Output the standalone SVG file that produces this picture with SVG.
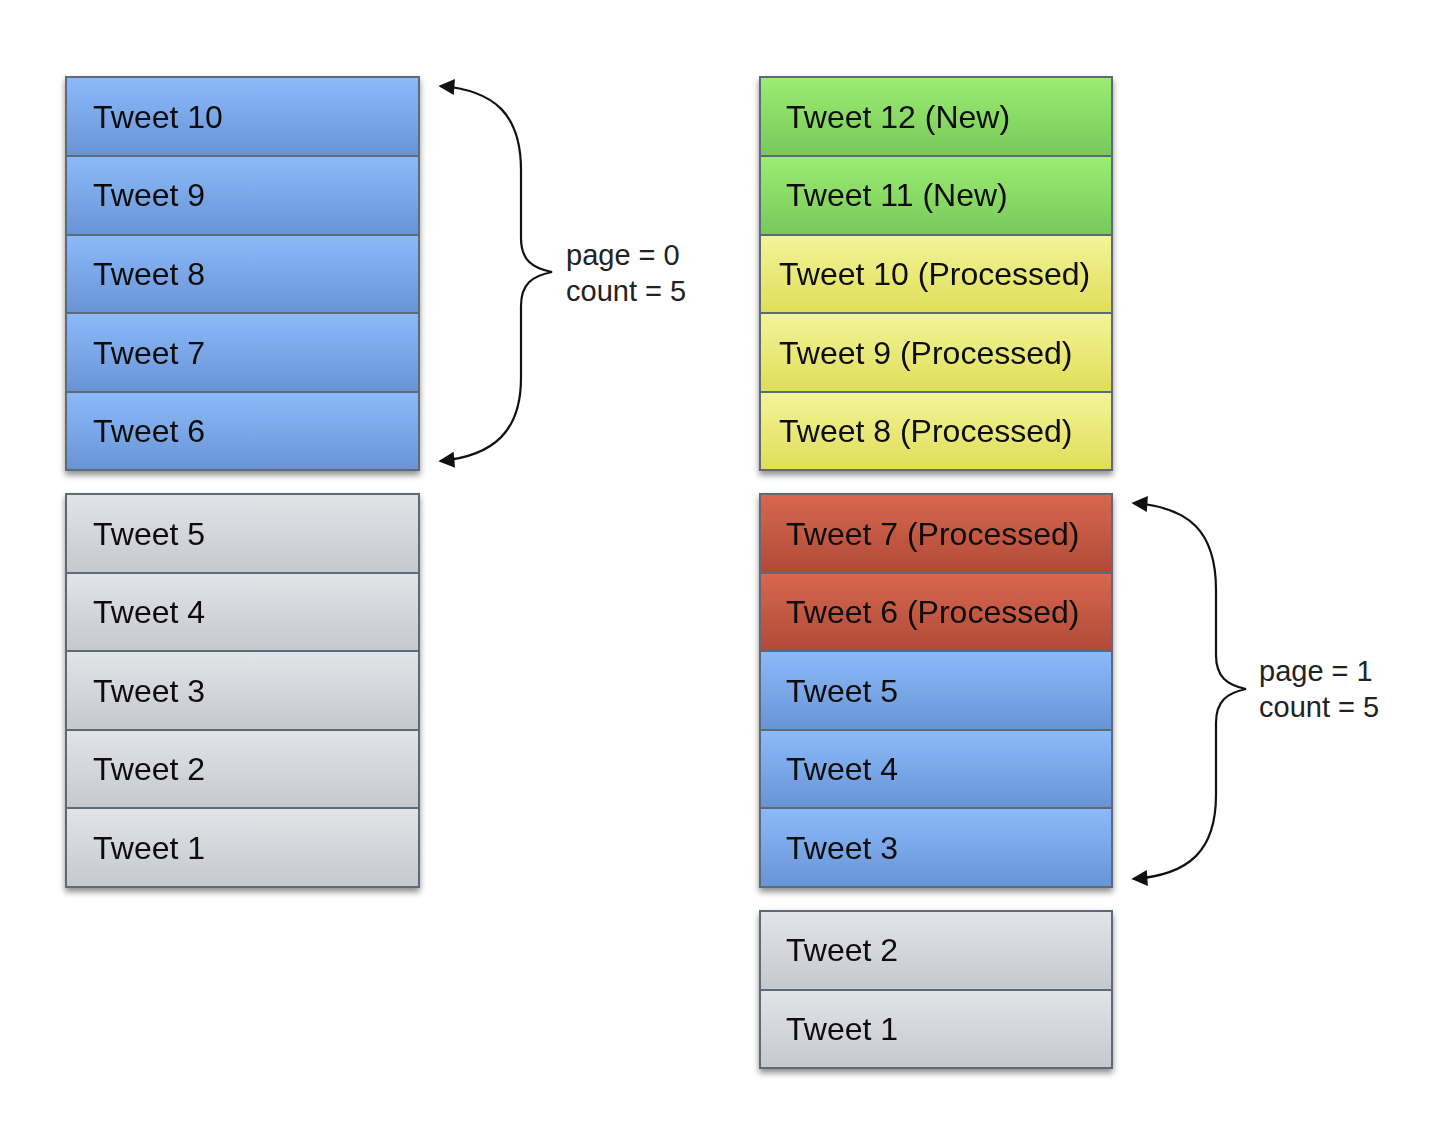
<svg xmlns="http://www.w3.org/2000/svg" width="1434" height="1124" viewBox="0 0 1434 1124">
<style>
.t{font-family:"Liberation Sans",Arial,sans-serif;font-size:32px;fill:#0e0e0e}
.l{font-family:"Liberation Sans",Arial,sans-serif;font-size:29px;fill:#222}
.row{stroke:#5f6a78;stroke-width:2}
.br{fill:none;stroke:#111;stroke-width:2.2}
</style>
<defs>
<linearGradient id="gb" x1="0" y1="0" x2="0" y2="1"><stop offset="0" stop-color="#8cbaf9"/><stop offset="1" stop-color="#6894d6"/></linearGradient>
<linearGradient id="gg" x1="0" y1="0" x2="0" y2="1"><stop offset="0" stop-color="#9ced72"/><stop offset="1" stop-color="#78c85a"/></linearGradient>
<linearGradient id="gy" x1="0" y1="0" x2="0" y2="1"><stop offset="0" stop-color="#f4f49a"/><stop offset="1" stop-color="#dede58"/></linearGradient>
<linearGradient id="gr" x1="0" y1="0" x2="0" y2="1"><stop offset="0" stop-color="#d8684f"/><stop offset="1" stop-color="#b04a38"/></linearGradient>
<linearGradient id="gs" x1="0" y1="0" x2="0" y2="1"><stop offset="0" stop-color="#e2e4e8"/><stop offset="1" stop-color="#c6c8ce"/></linearGradient>
<filter id="sh" x="-5%" y="-5%" width="110%" height="115%"><feGaussianBlur in="SourceAlpha" stdDeviation="3"/><feOffset dy="4"/><feComponentTransfer><feFuncA type="linear" slope="0.45"/></feComponentTransfer><feMerge><feMergeNode/><feMergeNode in="SourceGraphic"/></feMerge></filter>
<marker id="ah" viewBox="0 0 10 10" refX="9" refY="5" markerWidth="22" markerHeight="16" markerUnits="userSpaceOnUse" orient="auto-start-reverse"><path d="M0,0 L10,5 L0,10 Z" fill="#111"/></marker>
</defs>
<rect width="1434" height="1124" fill="#fff"/>

<g id="left-top" filter="url(#sh)">
<g id="l10"><rect class="row" x="66" y="77" width="353" height="79" fill="url(#gb)"/><text class="t" x="93" y="128">Tweet 10</text></g>
<g id="l9"><rect class="row" x="66" y="156" width="353" height="79" fill="url(#gb)"/><text class="t" x="93" y="206">Tweet 9</text></g>
<g id="l8"><rect class="row" x="66" y="235" width="353" height="78" fill="url(#gb)"/><text class="t" x="93" y="285">Tweet 8</text></g>
<g id="l7"><rect class="row" x="66" y="313" width="353" height="79" fill="url(#gb)"/><text class="t" x="93" y="364">Tweet 7</text></g>
<g id="l6"><rect class="row" x="66" y="392" width="353" height="78" fill="url(#gb)"/><text class="t" x="93" y="442">Tweet 6</text></g>
</g>

<g id="left-bottom" filter="url(#sh)">
<g id="l5"><rect class="row" x="66" y="494" width="353" height="79" fill="url(#gs)"/><text class="t" x="93" y="545">Tweet 5</text></g>
<g id="l4"><rect class="row" x="66" y="573" width="353" height="78" fill="url(#gs)"/><text class="t" x="93" y="623">Tweet 4</text></g>
<g id="l3"><rect class="row" x="66" y="651" width="353" height="79" fill="url(#gs)"/><text class="t" x="93" y="702">Tweet 3</text></g>
<g id="l2"><rect class="row" x="66" y="730" width="353" height="78" fill="url(#gs)"/><text class="t" x="93" y="780">Tweet 2</text></g>
<g id="l1"><rect class="row" x="66" y="808" width="353" height="79" fill="url(#gs)"/><text class="t" x="93" y="859">Tweet 1</text></g>
</g>

<g id="right-top" filter="url(#sh)">
<g id="r12"><rect class="row" x="760" y="77" width="352" height="79" fill="url(#gg)"/><text class="t" x="786" y="128">Tweet 12 (New)</text></g>
<g id="r11"><rect class="row" x="760" y="156" width="352" height="79" fill="url(#gg)"/><text class="t" x="786" y="206">Tweet 11 (New)</text></g>
<g id="r10"><rect class="row" x="760" y="235" width="352" height="78" fill="url(#gy)"/><text class="t" x="779" y="285">Tweet 10 (Processed)</text></g>
<g id="r9"><rect class="row" x="760" y="313" width="352" height="79" fill="url(#gy)"/><text class="t" x="779" y="364">Tweet 9 (Processed)</text></g>
<g id="r8"><rect class="row" x="760" y="392" width="352" height="78" fill="url(#gy)"/><text class="t" x="779" y="442">Tweet 8 (Processed)</text></g>
</g>

<g id="right-mid" filter="url(#sh)">
<g id="r7"><rect class="row" x="760" y="494" width="352" height="79" fill="url(#gr)"/><text class="t" x="786" y="545">Tweet 7 (Processed)</text></g>
<g id="r6"><rect class="row" x="760" y="573" width="352" height="78" fill="url(#gr)"/><text class="t" x="786" y="623">Tweet 6 (Processed)</text></g>
<g id="r5"><rect class="row" x="760" y="651" width="352" height="79" fill="url(#gb)"/><text class="t" x="786" y="702">Tweet 5</text></g>
<g id="r4"><rect class="row" x="760" y="730" width="352" height="78" fill="url(#gb)"/><text class="t" x="786" y="780">Tweet 4</text></g>
<g id="r3"><rect class="row" x="760" y="808" width="352" height="79" fill="url(#gb)"/><text class="t" x="786" y="859">Tweet 3</text></g>
</g>

<g id="right-bottom" filter="url(#sh)">
<g id="r2"><rect class="row" x="760" y="911" width="352" height="79" fill="url(#gs)"/><text class="t" x="786" y="961">Tweet 2</text></g>
<g id="r1"><rect class="row" x="760" y="990" width="352" height="78" fill="url(#gs)"/><text class="t" x="786" y="1040">Tweet 1</text></g>
</g>

<g id="connectors">
<path class="br" marker-start="url(#ah)" marker-end="url(#ah)" d="M 440,86 C 495,90 521,115 521,170 L 521,238 C 521,260 532,268 552,272 C 532,276 521,284 521,306 L 521,378 C 521,430 495,456 440,461"/>
<path class="br" marker-start="url(#ah)" marker-end="url(#ah)" d="M 1133,503 C 1190,507 1216,532 1216,590 L 1216,655 C 1216,677 1227,685 1246,689 C 1227,693 1216,701 1216,723 L 1216,795 C 1216,850 1190,875 1133,879"/>
</g>

<g id="label-page0"><text class="l" x="566" y="265">page = 0</text><text class="l" x="566" y="301">count = 5</text></g>
<g id="label-page1"><text class="l" x="1259" y="681">page = 1</text><text class="l" x="1259" y="717">count = 5</text></g>
</svg>
